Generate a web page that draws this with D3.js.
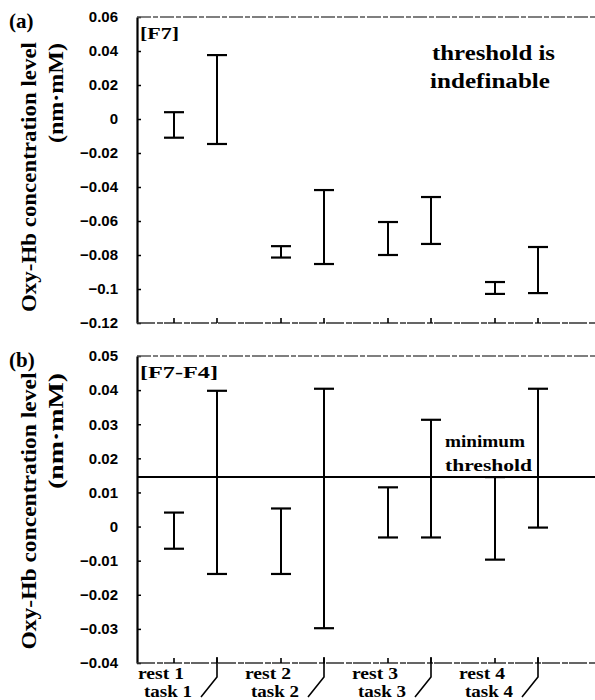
<!DOCTYPE html>
<html>
<head>
<meta charset="utf-8">
<script src="https://d3js.org/d3.v7.min.js"></script>
<style>
  body { margin: 0; background: #fff; }
  svg { display: block; }
  .serif { font-family: "Liberation Serif", serif; font-weight: bold; }
  .tick text { font-family: "Liberation Sans", Arial, sans-serif; font-weight: bold; font-size: 15px; fill: #000; }
</style>
</head>
<body>
<div id="chart"></div>
<script>
// categories
var groups = ["1", "2", "3", "4"];
var restLabels = ["rest 1", "rest 2", "rest 3", "rest 4"];
var taskLabels = ["task 1", "task 2", "task 3", "task 4"];

// panel (a) [F7] error bar ranges [low, high]
var f7Rest = [[-0.011, 0.004], [-0.0815, -0.0748], [-0.080, -0.0606], [-0.1029, -0.0959]];
var f7Task = [[-0.0147, 0.0376], [-0.0853, -0.0418], [-0.0735, -0.0459], [-0.1024, -0.0753]];
var f7Ticks = [0.06, 0.04, 0.02, 0, -0.02, -0.04, -0.06, -0.08, -0.1, -0.12];

// panel (b) [F7-F4]
var f74Rest = [[-0.0065, 0.0041], [-0.0139, 0.0053], [-0.0032, 0.0115], [-0.0097, 0.0145]];
var f74Task = [[-0.0139, 0.0398], [-0.0298, 0.0404], [-0.0032, 0.0313], [-0.0003, 0.0404]];
var f74Ticks = [0.05, 0.04, 0.03, 0.02, 0.01, 0, -0.01, -0.02, -0.03, -0.04];
var minThreshold = 0.0145;

var width = 595, height = 700;
var axisX = 137, rightX = 595;
var restOff = 37, taskOff = 80, capW = 20;

var svg = d3.select("#chart").append("svg")
  .attr("width", width)
  .attr("height", height);

var x = d3.scaleBand()
  .domain(groups)
  .range([axisX, axisX + 107 * 4])
  .paddingInner(0);

function fmt(d) {
  return d === 0 ? "0" : d3.format("")(d).replace("-", "\u2212");
}

function drawPanel(opt) {
  var y = d3.scaleLinear().domain(opt.domain).range([opt.bottom, opt.top]);
  var g = svg.append("g");

  // y axis
  var yAxis = d3.axisLeft(y)
    .tickValues(opt.ticks)
    .tickSizeInner(-4)
    .tickSizeOuter(0)
    .tickPadding(19)
    .tickFormat(fmt);
  var ya = g.append("g")
    .attr("transform", "translate(" + axisX + ",0)")
    .call(yAxis);
  ya.select(".domain").attr("stroke", "#000").attr("stroke-width", 2.2);
  ya.selectAll(".tick line").attr("stroke", "#000").attr("stroke-width", 1.5);

  // top frame line and bottom axis line (dashed look of the scan)
  g.append("line")
    .attr("x1", axisX).attr("x2", rightX)
    .attr("y1", opt.top).attr("y2", opt.top)
    .attr("stroke", "#555").attr("stroke-width", 1.3)
    .attr("stroke-dasharray", "14,2,5,2");
  g.append("line")
    .attr("x1", axisX).attr("x2", rightX)
    .attr("y1", opt.bottom).attr("y2", opt.bottom)
    .attr("stroke", "#333").attr("stroke-width", 1.6)
    .attr("stroke-dasharray", "18,2,6,1");

  // x ticks pointing up
  groups.forEach(function(k) {
    [restOff, taskOff].forEach(function(off) {
      g.append("line")
        .attr("x1", x(k) + off).attr("x2", x(k) + off)
        .attr("y1", opt.bottom).attr("y2", opt.bottom - 5)
        .attr("stroke", "#000").attr("stroke-width", 1.6);
    });
  });

  // threshold line
  if (opt.threshold !== undefined) {
    g.append("line")
      .attr("x1", axisX).attr("x2", rightX)
      .attr("y1", y(opt.threshold)).attr("y2", y(opt.threshold))
      .attr("stroke", "#000").attr("stroke-width", 2);
  }

  // error bars
  function bars(data, off) {
    var b = g.selectAll(null).data(data).enter().append("g")
      .attr("transform", function(d, i) { return "translate(" + (x(groups[i]) + off) + ",0)"; });
    b.append("line")
      .attr("y1", function(d) { return y(d[0]); })
      .attr("y2", function(d) { return y(d[1]); })
      .attr("stroke", "#000").attr("stroke-width", 2);
    [0, 1].forEach(function(j) {
      b.append("line")
        .attr("x1", -capW / 2).attr("x2", capW / 2)
        .attr("y1", function(d) { return y(d[j]); })
        .attr("y2", function(d) { return y(d[j]); })
        .attr("stroke", "#000").attr("stroke-width", 2.2);
    });
  }
  bars(opt.rest, restOff);
  bars(opt.task, taskOff);

  // panel letter and channel tag
  g.append("text").attr("class", "serif")
    .attr("x", 9).attr("y", opt.top + 11)
    .attr("font-size", 21)
    .text(opt.letter);
  g.append("text").attr("class", "serif")
    .attr("x", axisX + 3).attr("y", opt.top + 22)
    .attr("font-size", 17)
    .attr("textLength", opt.tagLen).attr("lengthAdjust", "spacingAndGlyphs")
    .text(opt.tag);

  // y titles
  g.append("text").attr("class", "serif")
    .attr("transform", "translate(36," + opt.title1c + ") rotate(-90)")
    .attr("text-anchor", "middle")
    .attr("font-size", 20)
    .attr("textLength", opt.title1len).attr("lengthAdjust", "spacingAndGlyphs")
    .text("Oxy-Hb concentration level");
  g.append("text").attr("class", "serif")
    .attr("transform", "translate(63," + opt.title2c + ") rotate(-90)")
    .attr("text-anchor", "middle")
    .attr("font-size", 20)
    .attr("textLength", opt.title2len).attr("lengthAdjust", "spacingAndGlyphs")
    .text("(nm\u00b7mM)");

  return { g: g, y: y };
}

var pa = drawPanel({
  domain: [-0.12, 0.06], top: 17, bottom: 323,
  ticks: f7Ticks, rest: f7Rest, task: f7Task,
  letter: "(a)", tag: "[F7]", tagLen: 39,
  title1c: 177, title1len: 270, title2c: 93, title2len: 100
});

var pb = drawPanel({
  domain: [-0.04, 0.05], top: 356, bottom: 663,
  ticks: f74Ticks, rest: f74Rest, task: f74Task, threshold: minThreshold,
  letter: "(b)", tag: "[F7-F4]", tagLen: 78,
  title1c: 511, title1len: 277, title2c: 431, title2len: 116
});

// annotations
pa.g.append("text").attr("class", "serif")
  .attr("x", 432).attr("y", 60).attr("font-size", 21)
  .attr("textLength", 123).attr("lengthAdjust", "spacingAndGlyphs")
  .text("threshold is");
pa.g.append("text").attr("class", "serif")
  .attr("x", 430).attr("y", 88).attr("font-size", 21)
  .attr("textLength", 120).attr("lengthAdjust", "spacingAndGlyphs")
  .text("indefinable");

pb.g.append("text").attr("class", "serif")
  .attr("x", 445).attr("y", 447).attr("font-size", 16)
  .attr("textLength", 80).attr("lengthAdjust", "spacingAndGlyphs")
  .text("minimum");
pb.g.append("text").attr("class", "serif")
  .attr("x", 445).attr("y", 471).attr("font-size", 16)
  .attr("textLength", 87).attr("lengthAdjust", "spacingAndGlyphs")
  .text("threshold");

// bottom category labels with the task brackets
var yb = 663;
groups.forEach(function(k, i) {
  var rx = x(k) + restOff, tx = x(k) + taskOff;
  svg.append("text").attr("class", "serif")
    .attr("x", rx - 13).attr("y", 679)
    .attr("text-anchor", "middle").attr("font-size", 16)
    .attr("textLength", 46).attr("lengthAdjust", "spacingAndGlyphs")
    .text(restLabels[i]);
  svg.append("text").attr("class", "serif")
    .attr("x", tx - 49).attr("y", 697)
    .attr("text-anchor", "middle").attr("font-size", 16)
    .attr("textLength", 48).attr("lengthAdjust", "spacingAndGlyphs")
    .text(taskLabels[i]);
  svg.append("path")
    .attr("d", "M" + tx + "," + (yb - 6) + "V" + (yb + 14) + "L" + (tx - 16) + "," + (yb + 34))
    .attr("fill", "none").attr("stroke", "#000").attr("stroke-width", 1.6);
});
</script>
</body>
</html>
